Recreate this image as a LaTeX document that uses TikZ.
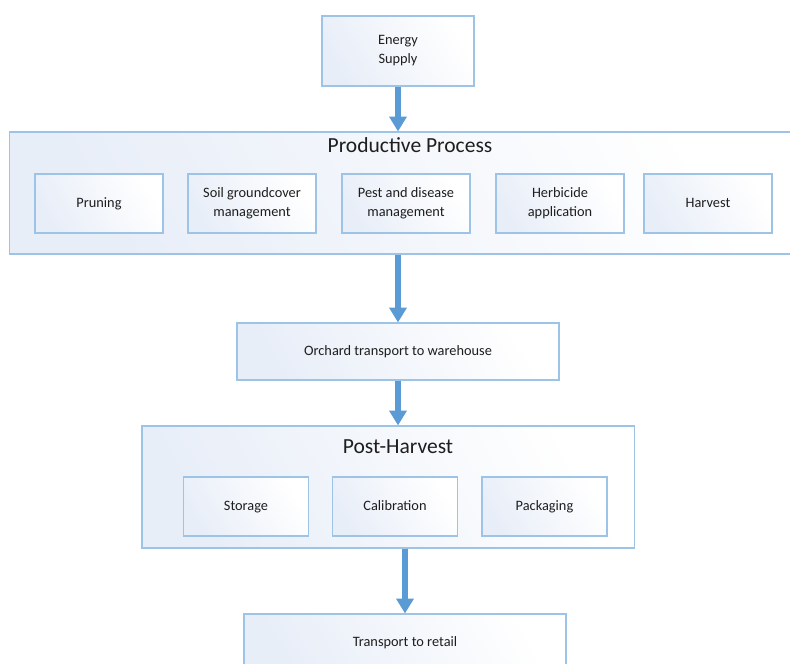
\documentclass[tikz,border=0pt]{standalone}
\usepackage{fontspec}
\setmainfont{Carlito}
\usetikzlibrary{arrows.meta, positioning, calc}
\definecolor{box-border}{HTML}{9DC3E6}
\definecolor{box-tint}{HTML}{E8EEF8}
\definecolor{flow-blue}{HTML}{5B9BD5}
\definecolor{ink}{HTML}{1E1E1E}
\tikzset{
  step-box/.style={draw=box-border, line width=0.8pt, left color=box-tint, right color=white,
    shading angle=120, align=center, text=ink, font=\fontsize{10.2}{13.5}\selectfont,
    inner sep=2pt},
  one-line/.style={text height=1.6ex, text depth=0.45ex},
  inner-box/.style={step-box, minimum height=1.475cm},
  group-box/.style={step-box, minimum height=3.05cm},
  group-title/.style={text=ink, font=\fontsize{15.3}{17}\selectfont},
  % Thick blue arrow between stages
  flow/.style={draw=flow-blue, line width=4.2pt,
    -{Triangle[width=12pt, length=10.5pt]}}
}
\begin{document}
\begin{tikzpicture}[x=0.025cm, y=-0.025cm]

  \useasboundingbox (0,0) rectangle (790,664);

  % ---- Energy supply ------------------------------------------------------
  \node[step-box, minimum width=3.8cm, minimum height=1.75cm] (energy) at (398,51)
        {Energy\\Supply};

  % ---- Productive process -------------------------------------------------
  \node[group-box, minimum width=19.75cm] (prodbox) at (405,193) {};
  \node[group-title] (prodtitle) at (410,145) {Productive Process};

  \node[inner-box, one-line, minimum width=3.2cm] (pruning) at (99,203.5) {Pruning};
  \node[inner-box, minimum width=3.2cm] (soil)    at (252,203.5) {Soil groundcover\\management};
  \node[inner-box, minimum width=3.2cm] (pest)    at (406,203.5) {Pest and disease\\management};
  \node[inner-box, minimum width=3.2cm] (herb)    at (560,203.5) {Herbicide\\application};
  \node[inner-box, one-line, minimum width=3.2cm] (harvest) at (708,203.5) {Harvest};

  % ---- Orchard transport --------------------------------------------------
  \node[step-box, one-line, minimum width=8.05cm, minimum height=1.425cm] (orchard) at (398,351.5)
        {Orchard transport to warehouse};

  % ---- Post-harvest -------------------------------------------------------
  \node[group-box, minimum width=12.3cm] (postbox) at (388,487) {};
  \node[group-title] (posttitle) at (398,447) {Post-Harvest};

  \node[inner-box, one-line, minimum width=3.125cm] (storage) at (246,506.5) {Storage};
  \node[inner-box, one-line, minimum width=3.125cm] (calib)   at (395,506.5) {Calibration};
  \node[inner-box, one-line, minimum width=3.125cm] (pack)    at (544.5,506.5) {Packaging};

  % ---- Transport to retail ------------------------------------------------
  \node[step-box, one-line, minimum width=8.05cm, minimum height=1.425cm] (retail) at (405,642.5)
        {Transport to retail};

  % ---- Flow arrows --------------------------------------------------------
  \draw[flow] (energy.south) -- (energy.south |- prodbox.north);
  \draw[flow] (orchard.north |- prodbox.south) -- (orchard.north);
  \draw[flow] (orchard.south) -- (orchard.south |- postbox.north);
  \draw[flow] (retail.north |- postbox.south) -- (retail.north);

\end{tikzpicture}
\end{document}
